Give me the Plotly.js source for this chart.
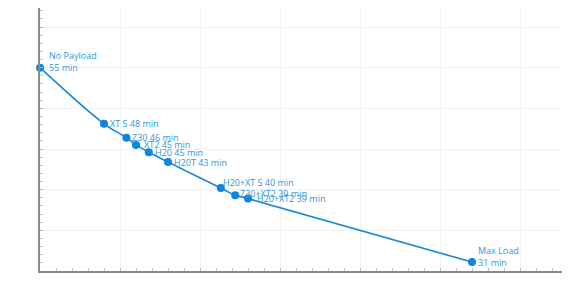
<!DOCTYPE html>
<html>
<head>
<meta charset="utf-8">
<script src="https://cdn.plot.ly/plotly-3.0.1.min.js"></script>
<style>html,body{margin:0;padding:0;background:#fff;}#chart{width:580px;height:290px;}</style>
</head>
<body>
<div id="chart"></div>
<script>
// Payload weight (kg) and flight time (min)
var payloads = ["No Payload", "XT S", "Z30", "XT2", "H20", "H20T", "H20+XT S", "Z30+XT2", "H20+XT2", "Max Load"];
var weightKg = [0, 0.40, 0.54, 0.60, 0.68, 0.80, 1.13, 1.22, 1.30, 2.70];
var flightMin = [55, 48.1, 46.4, 45.5, 44.6, 43.4, 40.2, 39.3, 38.9, 31.1];
var labelMin = [55, 48, 46, 45, 45, 43, 40, 39, 39, 31];

// label placement (style only): [xshift, yshift] in px
var shifts = {
  "No Payload": [8, 6], "Max Load": [5, 6],
  "XT2": [7, 0], "H20+XT S": [1, 6], "Z30+XT2": [4, 2], "H20+XT2": [8, 0]
};
var twoLine = {"No Payload": true, "Max Load": true};

var labelFont = {family: "Open Sans, sans-serif", size: 9, color: "#3196d8"};
var annotations = payloads.map(function (p, i) {
  var s = shifts[p] || [5, 0];
  return {
    x: weightKg[i], y: flightMin[i], xref: "x", yref: "y",
    text: twoLine[p] ? (p + "<br>" + labelMin[i] + " min") : (p + " " + labelMin[i] + " min"),
    showarrow: false, xanchor: "left", yanchor: "middle", align: "left",
    xshift: s[0], yshift: s[1], font: labelFont, borderpad: 0
  };
});

var trace = {
  x: weightKg, y: flightMin, type: "scatter", mode: "lines+markers",
  line: {shape: "spline", smoothing: 1, color: "#1787d8", width: 1.6},
  marker: {size: 8, color: "#0d86dc"},
  cliponaxis: false, hoverinfo: "none"
};

var layout = {
  width: 580, height: 290,
  margin: {l: 40, r: 18, t: 8, b: 19},
  paper_bgcolor: "#fff", plot_bgcolor: "#fff",
  showlegend: false,
  xaxis: {
    range: [0, 3.2625], dtick: 0.5, tick0: 0, showgrid: true, gridcolor: "#f1f1f1", gridwidth: 1,
    zeroline: false, showline: true, linecolor: "#8a8a8a", linewidth: 2,
    ticks: "inside", ticklen: 3, tickcolor: "#b5b5b5", showticklabels: false,
    minor: {dtick: 0.1, ticks: "inside", ticklen: 3, tickcolor: "#c0c0c0", showgrid: false}
  },
  yaxis: {
    range: [30, 62.34], dtick: 5, tick0: 30, showgrid: true, gridcolor: "#f1f1f1", gridwidth: 1,
    zeroline: false, showline: true, linecolor: "#8a8a8a", linewidth: 2,
    ticks: "inside", ticklen: 3, tickcolor: "#b5b5b5", showticklabels: false,
    minor: {dtick: 1, ticks: "inside", ticklen: 3, tickcolor: "#c0c0c0", showgrid: false}
  },
  annotations: annotations
};

Plotly.newPlot("chart", [trace], layout, {staticPlot: true, displayModeBar: false});
</script>
</body>
</html>
